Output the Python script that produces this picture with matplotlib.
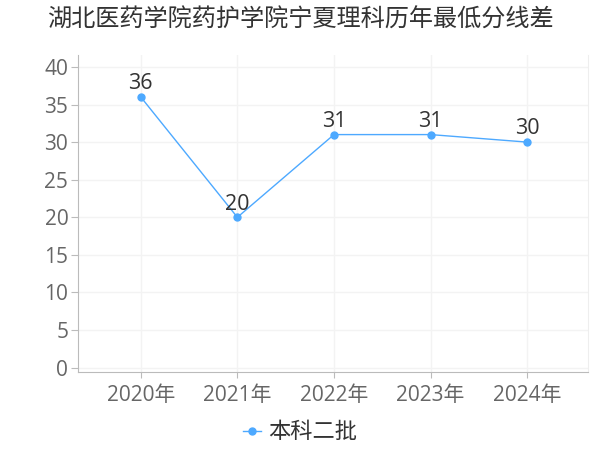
import matplotlib
matplotlib.use('Agg')
import matplotlib.pyplot as plt

plt.rcParams['font.family'] = ['Open Sans', 'Noto Sans CJK SC', 'DejaVu Sans']

years = ['2020年', '2021年', '2022年', '2023年', '2024年']
values = [36, 20, 31, 31, 30]
series_name = '本科二批'
title = '湖北医药学院药护学院宁夏理科历年最低分线差'

line_color = '#4da9ff'
cjk = ['Noto Sans CJK SC', 'DejaVu Sans']

fig = plt.figure(figsize=(6, 4.5), dpi=100)
ax = fig.add_axes([0.13, 0.173, 0.85, 0.705])

x = list(range(len(years)))
ax.plot(x, values, color=line_color, linewidth=1, marker='o', markersize=5,
        label=series_name, zorder=3)

for xi, v in zip(x, values):
    ax.annotate(str(v), (xi, v), xytext=(0, 2), textcoords='offset points',
                ha='center', va='bottom', fontsize=15.5, color='#333333')

ax.set_xlim(-0.65, len(years) - 1 + 0.63)
ax.set_ylim(-0.6, 41.6)
ax.set_yticks(range(0, 41, 5))
ax.set_xticks(x)
ax.set_xticklabels(years)

ax.grid(True, color='#f3f3f3', linewidth=1, zorder=0)
ax.spines['top'].set_visible(False)
ax.spines['right'].set_color('#eeeeee')
ax.spines['left'].set_color('#bbbbbb')
ax.spines['bottom'].set_color('#bbbbbb')
ax.tick_params(axis='both', colors='#bbbbbb', labelcolor='#666666', labelsize=15)
ax.tick_params(axis='y', length=5, pad=2)
ax.tick_params(axis='x', length=4, pad=5)

fig.text(0.5, 0.957, title, ha='center', va='center', fontsize=17.4,
         color='#333333', family=cjk)

leg = fig.legend(loc='center', bbox_to_anchor=(0.5, 0.04), frameon=False,
                 prop={'family': cjk, 'size': 16}, handlelength=0.8,
                 handletextpad=0.3)
for t in leg.get_texts():
    t.set_color('#333333')

fig.savefig('out.png', dpi=100)
